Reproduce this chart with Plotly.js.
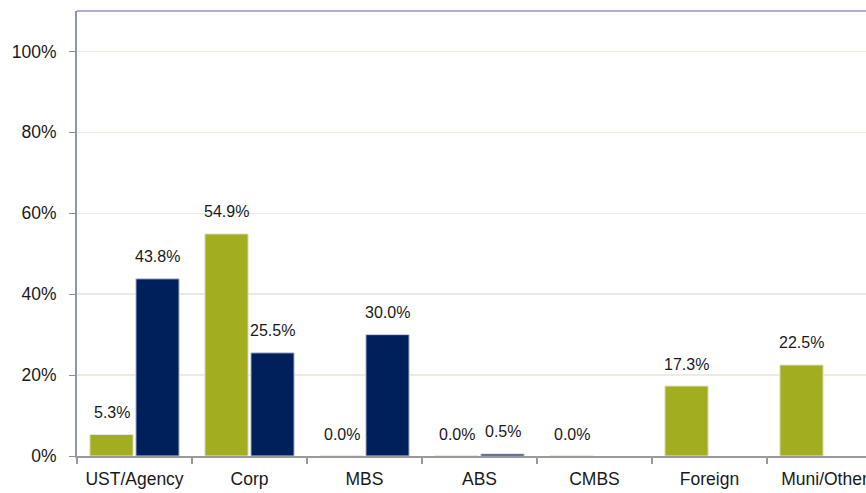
<!DOCTYPE html>
<html>
<head>
<meta charset="utf-8">
<script src="https://cdn.plot.ly/plotly-3.0.1.min.js"></script>
<style>
  html, body { margin: 0; padding: 0; overflow: hidden; background: #fff; }
  #chart { width: 882px; height: 493px; }
</style>
</head>
<body>
<div id="chart"></div>
<script>
const categories = ["UST/Agency", "Corp", "MBS", "ABS", "CMBS", "Foreign", "Muni/Other"];
const seriesGreen = [5.3, 54.9, 0.0, 0.0, 0.0, 17.3, 22.5];
const seriesNavy = [43.8, 25.5, 30.0, 0.5, null, null, null];
const yTickVals = [0, 20, 40, 60, 80, 100];
const yTickText = ["0%", "20%", "40%", "60%", "80%", "100%"];

const GREEN = "#a2ad1f";
const NAVY = "#00205b";
const FONT = "Liberation Sans, Arial, sans-serif";

const traces = [
  {
    type: "bar", x: categories, y: seriesGreen, name: "Green",
    marker: { color: GREEN, line: { color: "#e4e6d0", width: 1 } },
    hoverinfo: "skip"
  },
  {
    type: "bar", x: categories, y: seriesNavy, name: "Navy",
    marker: { color: NAVY, line: { color: "#c9cfe0", width: 1 } },
    hoverinfo: "skip"
  }
];

const annotations = [];
categories.forEach((c, i) => {
  if (seriesGreen[i] !== null) {
    annotations.push({
      x: c, y: seriesGreen[i], xref: "x", yref: "y",
      text: seriesGreen[i].toFixed(1) + "%", showarrow: false,
      xshift: -23, yshift: 22, yanchor: "middle",
      font: { family: FONT, size: 16, color: "#1a1a1a" }
    });
  }
  if (seriesNavy[i] !== null) {
    annotations.push({
      x: c, y: seriesNavy[i], xref: "x", yref: "y",
      text: seriesNavy[i].toFixed(1) + "%", showarrow: false,
      xshift: 23, yshift: 22, yanchor: "middle",
      font: { family: FONT, size: 16, color: "#1a1a1a" }
    });
  }
});

const layout = {
  width: 882, height: 493,
  margin: { l: 77, r: 0, t: 11, b: 37, pad: 0 },
  paper_bgcolor: "#ffffff", plot_bgcolor: "#ffffff",
  showlegend: false,
  barmode: "group", bargap: 0.2, bargroupgap: 0.06,
  font: { family: FONT, size: 17, color: "#1a1a1a" },
  xaxis: {
    type: "category", range: [-0.5, 6.5], tickangle: 0,
    tickson: "boundaries", ticks: "outside", ticklen: 6, tickwidth: 2, tickcolor: "#9a9a9a",
    showline: true, linecolor: "#9a9a9a", linewidth: 2,
    showgrid: false, zeroline: false,
    tickfont: { family: FONT, size: 17.5, color: "#1a1a1a" },
    ticklabelstandoff: 6
  },
  yaxis: {
    range: [0, 110], tickvals: yTickVals, ticktext: yTickText,
    ticks: "outside", ticklen: 6, tickwidth: 1, tickcolor: "#8e8e8e",
    showline: true, linecolor: "#8f94ad", linewidth: 2,
    showgrid: true, gridcolor: "#ecebdf", gridwidth: 1.5,
    zeroline: false,
    tickfont: { family: FONT, size: 17.5, color: "#1a1a1a" },
    ticklabelstandoff: 9
  },
  shapes: [
    { type: "line", xref: "paper", yref: "paper", x0: 0, x1: 1, y0: 1, y1: 1,
      line: { color: "#aab0d4", width: 2 } }
  ],
  annotations: annotations
};

Plotly.newPlot("chart", traces, layout, { displayModeBar: false, staticPlot: true });
</script>
</body>
</html>
